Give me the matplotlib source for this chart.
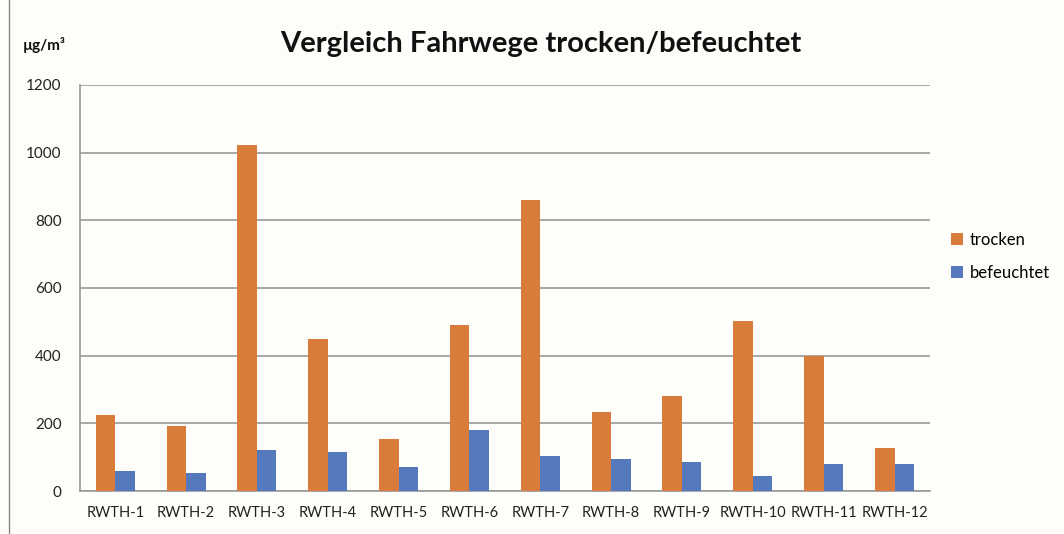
import matplotlib.pyplot as plt
import numpy as np
from matplotlib.lines import Line2D

plt.rcParams['font.family'] = ['Lato', 'DejaVu Sans']

labels = ['RWTH-1', 'RWTH-2', 'RWTH-3', 'RWTH-4', 'RWTH-5', 'RWTH-6',
          'RWTH-7', 'RWTH-8', 'RWTH-9', 'RWTH-10', 'RWTH-11', 'RWTH-12']
trocken = [225, 191, 1021, 449, 154, 491, 861, 234, 282, 503, 399, 128]
befeuchtet = [58, 53, 120, 114, 72, 180, 103, 96, 86, 45, 79, 80]

orange = '#D97C3B'
blue = '#5479BD'
bg = '#FDFDFA'

fig = plt.figure(figsize=(10.64, 5.34), dpi=100, facecolor=bg)
ax = fig.add_axes([0.075, 0.0805, 0.799, 0.7605])
ax.set_facecolor(bg)

x = np.arange(len(labels))
w = 0.275
ax.bar(x - w/2, trocken, w, color=orange, label='trocken', zorder=3)
ax.bar(x + w/2, befeuchtet, w, color=blue, label='befeuchtet', zorder=3)

ax.set_xlim(-0.5, len(labels) - 0.5)
ax.set_ylim(0, 1200)
ax.set_yticks(range(0, 1201, 200))
ax.set_xticks(x)
ax.set_xticklabels(labels)
ax.tick_params(length=0, labelsize=10.5, colors='#222222')
ax.tick_params(axis='y', pad=13, labelsize=11)
ax.tick_params(axis='x', pad=11)
ax.grid(axis='y', color='#999999', linewidth=1.2, zorder=0)
for s in ['top', 'right']:
    ax.spines[s].set_visible(False)
ax.spines['left'].set_color('#999999')
ax.spines['bottom'].set_color('#999999')
ax.spines['left'].set_linewidth(1.2)
ax.spines['bottom'].set_linewidth(1.2)

fig.text(0.508, 0.917, 'Vergleich Fahrwege trocken/befeuchtet', ha='center', va='center',
         fontsize=21, fontweight='bold', color='#111111')
fig.text(0.021, 0.915, 'µg/m³', ha='left', va='center', fontsize=11,
         fontweight='bold', color='#111111')

ax.legend(loc='center left', bbox_to_anchor=(0.88, 0.52), bbox_transform=fig.transFigure,
          frameon=False, fontsize=12, handlelength=0.7, handleheight=0.7,
          handletextpad=0.4, labelspacing=1.0)

fig.add_artist(Line2D([0.008, 0.008], [0, 1], transform=fig.transFigure,
                      color='#888888', linewidth=1))

fig.savefig('out.png', dpi=100, facecolor=bg)
